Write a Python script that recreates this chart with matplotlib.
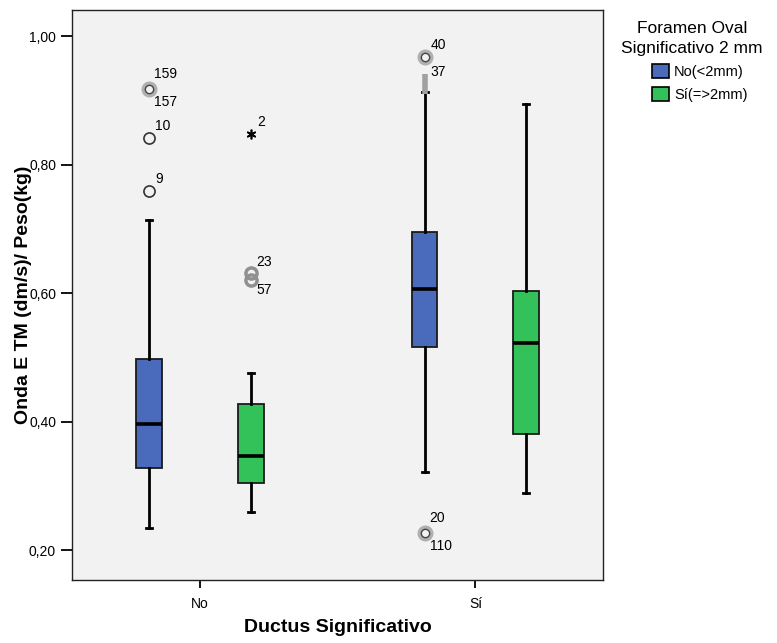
import matplotlib
matplotlib.use("Agg")
import matplotlib.pyplot as plt
from matplotlib.patches import Patch
from matplotlib.ticker import FuncFormatter

plt.rcParams['font.family'] = ['Liberation Sans', 'DejaVu Sans']

# ---- data ----
groups = ["No", "Sí"]
hue_labels = ["No(<2mm)", "Sí(=>2mm)"]
hue_colors = ["#4a6bbb", "#33c15a"]
legend_title = "Foramen Oval\nSignificativo 2 mm"

# box stats per group (index 0 = No(<2mm), 1 = Sí(=>2mm))
whislo = {"No": [0.235, 0.259], "Sí": [0.322, 0.289]}
q1     = {"No": [0.328, 0.304], "Sí": [0.517, 0.381]}
med    = {"No": [0.396, 0.347], "Sí": [0.606, 0.523]}
q3     = {"No": [0.498, 0.428], "Sí": [0.695, 0.604]}
whishi = {"No": [0.714, 0.475], "Sí": [0.914, 0.895]}

# outliers: (value, case labels, kind)
outliers = {
    ("No", 0): [(0.918, ["159", "157"], "g"), (0.842, ["10"], "o"), (0.759, ["9"], "o")],
    ("No", 1): [(0.848, ["2"], "*"), (0.626, ["23", "57"], "gg")],
    ("Sí", 0): [(0.968, ["40"], "g"), (0.925, ["37"], "|"), (0.227, ["20", "110"], "g")],
    ("Sí", 1): [],
}

offset = 0.185
box_w = 0.094
cap_w = 0.022

fig = plt.figure(figsize=(7.77, 6.43), dpi=100)
ax = fig.add_axes([72/777, 1-580/643, (603-72)/777, (580-10)/643])
ax.set_facecolor("#f2f2f2")

for gi, g in enumerate(groups):
    for hi in range(2):
        pos = gi + 1 + (-offset if hi == 0 else offset)
        st = dict(whislo=whislo[g][hi], q1=q1[g][hi], med=med[g][hi],
                  q3=q3[g][hi], whishi=whishi[g][hi], fliers=[])
        ax.bxp([st], positions=[pos], widths=box_w, capwidths=cap_w,
               patch_artist=True, showfliers=False,
               boxprops=dict(facecolor=hue_colors[hi], edgecolor="#1a1a1a", linewidth=1.3),
               medianprops=dict(color="black", linewidth=2.6),
               whiskerprops=dict(color="black", linewidth=2),
               capprops=dict(color="black", linewidth=2), manage_ticks=False)
        for val, labs, kind in outliers[(g, hi)]:
            if kind == "*":
                ax.plot(pos, val, marker=(6, 2, 0), color="black", markersize=7, mew=1.2)
            elif kind == "g":
                ax.plot(pos, val, marker="o", mfc="none", mec="#b0b0b0", markersize=9, mew=2.5)
                ax.plot(pos, val, marker="o", mfc="none", mec="#444444", markersize=6, mew=1.0)
            elif kind == "gg":
                for dv in (-0.006, 0.006):
                    ax.plot(pos, val + dv, marker="o", mfc="none", mec="#909090", markersize=8, mew=2.5)
            elif kind == "|":
                ax.plot(pos, val, marker="|", color="#a0a0a0", markersize=14, mew=4)
            else:
                ax.plot(pos, val, marker="o", mfc="none", mec="#333333", markersize=8, mew=1.2)
            if len(labs) == 1:
                ax.annotate(labs[0], (pos, val), xytext=(6, 12), textcoords="offset pixels",
                            fontsize=10, ha="left", va="center")
            else:
                ax.annotate(labs[0], (pos, val), xytext=(5, 15), textcoords="offset pixels",
                            fontsize=10, ha="left", va="center")
                ax.annotate(labs[1], (pos, val), xytext=(5, -13), textcoords="offset pixels",
                            fontsize=10, ha="left", va="center")

ax.set_xlim(0.535, 2.463)
ax.set_ylim(0.1534, 1.041)
ax.set_xticks([1, 2])
ax.set_xticklabels(groups)
ax.set_yticks([0.2, 0.4, 0.6, 0.8, 1.0])
ax.yaxis.set_major_formatter(FuncFormatter(lambda v, p: f"{v:.2f}".replace(".", ",")))
ax.tick_params(axis="y", labelsize=10, length=8, width=1.3, direction="out")
ax.tick_params(axis="x", labelsize=10, length=6, width=1.3, direction="out", pad=6)
for s in ax.spines.values():
    s.set_linewidth(1.0)
    s.set_color("#222222")

ax.set_xlabel("Ductus Significativo", fontsize=14, fontweight="bold", labelpad=6)
ax.set_ylabel("Onda E TM (dm/s)/ Peso(kg)", fontsize=14, fontweight="bold", labelpad=-2)

fig.text(692/777, 1-21/643, legend_title, ha="center", va="top", fontsize=12.5,
         multialignment="center", linespacing=1.4)
handles = [Patch(facecolor=c, edgecolor="black", linewidth=1.2) for c in hue_colors]
fig.legend(handles, hue_labels, loc="upper left", bbox_to_anchor=(652/777, 1-64/643),
           frameon=False, borderpad=0, borderaxespad=0, fontsize=10.5,
           handlelength=1.15, handleheight=1.05, handletextpad=0.35, labelspacing=0.6)

fig.savefig("out.png", dpi=100, facecolor="white")
